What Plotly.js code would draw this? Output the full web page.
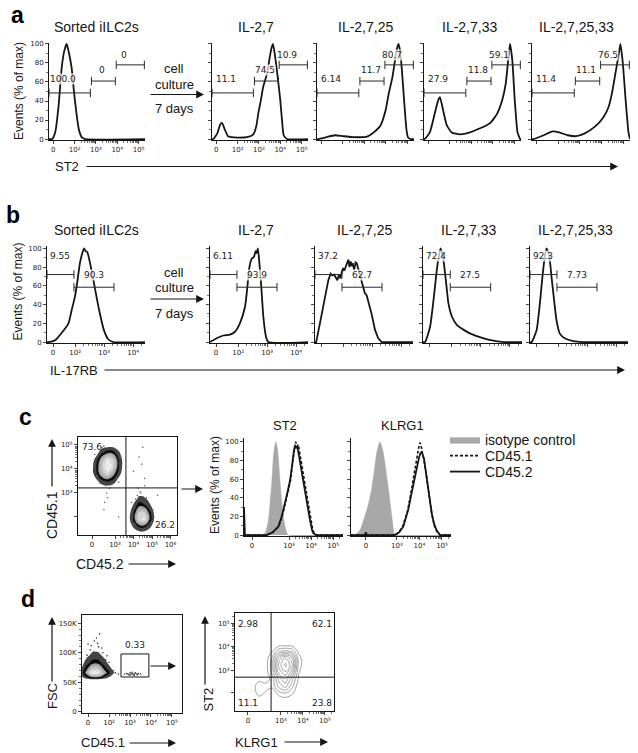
<!DOCTYPE html>
<html><head><meta charset="utf-8">
<script src="https://cdn.plot.ly/plotly-3.0.1.min.js"></script>
<style>html,body{margin:0;padding:0;background:#fff}#chart{width:638px;height:753px}</style>
</head><body><div id="chart"></div>
<script>
// ================= DATA =================
const conditions = ['Sorted iILC2s', 'IL-2,7', 'IL-2,7,25', 'IL-2,7,33', 'IL-2,7,25,33'];

// ---- Panel a: ST2 histograms (x: position on biexponential axis, 0 -> "0", 1 -> 10^2 ... 4 -> 10^5; y: % of max)
const aTickVals = [0, 1, 2, 3, 4];
const aTickText = ['0', '10²', '10³', '10⁴', '10⁵'];
const a1X = [-0.2, -0.05, 0.1, 0.25, 0.4, 0.52, 0.63, 0.72, 0.86, 0.97, 1.07, 1.2, 1.33, 1.5, 4.3];
const a1Y = [0, 0, 8, 35, 76, 93, 100, 92, 75, 50, 30, 10, 2, 0, 0];
const a2X = [-0.2, -0.14, 0.05, 0.18, 0.27, 0.4, 0.55, 0.7, 1.0, 1.44, 1.74, 1.88, 1.97, 2.1, 2.2, 2.38, 2.5, 2.57, 2.66, 2.77, 2.88, 3.0, 3.1, 3.16, 3.32, 4.3];
const a2Y = [0, 0, 6, 15, 17, 10, 3, 2, 1.5, 2, 5, 14, 27, 42, 55, 69, 85, 94, 100, 85, 65, 41, 15, 4, 0, 0];
const a3X = [-0.2, -0.15, 0.24, 0.63, 1.02, 1.49, 2.12, 2.43, 2.74, 2.98, 3.13, 3.29, 3.4, 3.5, 3.58, 3.66, 3.74, 3.84, 3.95, 4.02, 4.15, 4.3];
const a3Y = [0, 0, 2, 4, 3, 2, 2.5, 7, 14, 30, 48, 64, 80, 94, 100, 92, 72, 41, 10, 2, 0, 0];
const a4X = [-0.2, -0.17, 0.07, 0.3, 0.46, 0.54, 0.69, 0.85, 1.08, 1.47, 1.94, 2.26, 2.57, 2.88, 3.2, 3.43, 3.59, 3.7, 3.79, 3.9, 4.01, 4.14, 4.26, 4.3];
const a4Y = [0, 0, 7, 27, 41, 44, 30, 15, 7, 5, 7, 10, 13, 17, 27, 41, 58, 82, 100, 82, 41, 7, 0, 0];
const a5X = [-0.2, -0.13, 0.34, 0.74, 1.05, 1.44, 1.83, 2.22, 2.69, 3.08, 3.32, 3.47, 3.63, 3.76, 3.86, 3.97, 4.1, 4.23, 4.3];
const a5Y = [0, 0, 4, 8, 7, 4, 3, 6, 13, 23, 34, 48, 69, 86, 100, 80, 41, 7, 0];
// gates: [start, end] on x, height on y, and the percentages
const aGateX = [[-0.2, 1.74], [1.79, 2.91], [2.95, 4.27]];
const aGateY = [48.5, 61, 78];
const aGatePct = [['100.0', '0', '0'], ['11.1', '74.5', '10.9'], ['6.14', '11.7', '80.7'], ['27.9', '11.8', '59.1'], ['11.4', '11.1', '76.5']];
const aLabelX = [0.45, 2.3, 3.3];
const aLabelY = [63, 72.5, 88];

// ---- Panel b: IL-17RB histograms (x: 0.24 -> "0", 1 -> 10^2, 2 -> 10^3, 3 -> 10^4)
const bTickVals = [0.24, 1, 2, 3];
const bTickText = ['0', '10²', '10³', '10⁴'];
const b1X = [0.03, 0.08, 0.31, 0.54, 0.77, 0.88, 0.99, 1.07, 1.17, 1.26, 1.31, 1.36, 1.42, 1.51, 1.63, 1.74, 1.85, 1.99, 2.14, 2.32, 3.41];
const b1Y = [0, 0, 2, 10, 20, 34, 48, 63, 85, 96, 100, 97, 96, 85, 66, 48, 31, 13, 3, 0, 0];
const b2X = [0.03, 0.26, 0.49, 0.72, 0.89, 1.06, 1.24, 1.32, 1.39, 1.47, 1.55, 1.6, 1.64, 1.68, 1.72, 1.79, 1.87, 1.96, 2.04, 3.41];
const b2Y = [0, 4, 7, 8, 11, 20, 38, 59, 80, 89, 91, 97, 95, 100, 89, 63, 27, 6, 0, 0];
const b3X = [0.03, 0.07, 0.2, 0.37, 0.49, 0.57, 0.63, 0.69, 0.75, 0.8, 0.86, 0.91, 0.95, 1.0, 1.04, 1.1, 1.14, 1.18, 1.22, 1.26, 1.3, 1.33, 1.38, 1.43, 1.47, 1.52, 1.56, 1.64, 1.69, 1.75, 1.81, 1.87, 1.93, 1.99, 2.1, 2.21, 2.33, 3.41];
const b3Y = [0, 0, 20, 45, 66, 73, 71, 72, 68, 66, 72, 68, 74, 79, 76, 82, 85, 88, 80, 86, 81, 84, 77, 85, 84, 78, 73, 63, 58, 52, 50, 43, 36, 29, 13, 4, 0, 0];
const b4X = [0.03, 0.1, 0.27, 0.39, 0.48, 0.56, 0.63, 0.73, 0.82, 0.9, 1.02, 1.19, 1.42, 1.65, 2.0, 2.34, 2.8, 3.41];
const b4Y = [0, 0, 16, 45, 71, 90, 100, 87, 63, 41, 27, 18, 13, 9, 5, 2, 0, 0];
const b5X = [0.03, 0.09, 0.26, 0.37, 0.46, 0.55, 0.6, 0.69, 0.77, 0.86, 0.94, 1.06, 1.23, 1.52, 1.86, 3.41];
const b5Y = [0, 0, 13, 41, 70, 93, 100, 93, 70, 45, 24, 9, 4, 1, 0, 0];
const bGateX = [[0.03, 0.96], [0.96, 2.34]];
const bGateY = [72, 58.5];
const bGatePct = [['9.55', '90.3'], ['6.11', '93.9'], ['37.2', '62.7'], ['72.4', '27.5'], ['92.3', '7.73']];
const bLabelX = [0.1, 1.65];
const bLabelY = [91.5, 71];

// ---- Panel c: CD45.1 vs CD45.2 dot plot (density grids)
const c1TickX = [1.76, 3, 4, 5, 6];
const c1TickXText = ['0', '10³', '10⁴', '10⁵', '10⁶'];
const c1TickY = [2.0, 3, 4, 5];
const c1TickYText = ['', '10³', '10⁴', '10⁵'];
const c1QuadX = 3.59, c1QuadY = 3.21;
const c1Pct = ['73.6', '26.2'];
const c1AX = [1.7, 2.0, 2.3, 2.6, 2.9, 3.2, 3.5];
const c1AY = [3.2, 3.5, 3.8, 4.1, 4.4, 4.7, 5.0];
const c1AZ = [
  [0, 0, 0, 0, 0, 0, 0],
  [0, 0.6, 2, 2.8, 1.8, 0.4, 0],
  [0, 2.2, 6, 8, 5, 1.6, 0],
  [0, 2.6, 7, 10, 8, 2.6, 0],
  [0, 1.6, 5.5, 9, 7.5, 2.4, 0],
  [0, 0.3, 2, 3.2, 3, 1.2, 0],
  [0, 0, 0, 0, 0, 0, 0]];
const c1BX = [3.7, 4.0, 4.3, 4.6, 4.9, 5.2];
const c1BY = [1.3, 1.6, 1.9, 2.2, 2.5, 2.8, 3.1];
const c1BZ = [
  [0, 0, 0, 0, 0, 0],
  [0, 1.2, 2.8, 2.8, 1.2, 0],
  [0, 2.8, 8, 9, 3.2, 0],
  [0, 2.2, 7, 7, 2.6, 0],
  [0, 1.1, 3.2, 2.6, 1.1, 0],
  [0, 0, 1.3, 1.1, 0, 0],
  [0, 0, 0, 0, 0, 0]];
const c1DotsX = [4.2, 4.35, 4.5, 4.25, 4.6, 4.1, 4.7, 4.4, 2.5, 2.7, 1.9, 3.3, 2.3, 3.0, 2.55, 2.6, 2.45, 4.3, 4.45, 4.0, 3.2, 2.4, 5.3, 4.6, 4.5, 2.2, 3.1, 1.85, 3.35, 2.05, 3.2, 2.4, 2.8, 3.9, 5.05, 4.0, 4.95];
const c1DotsY = [2.9, 3.05, 2.85, 3.2, 3.3, 2.75, 2.8, 3.0, 3.3, 3.2, 4.6, 4.5, 4.9, 4.85, 3.0, 2.8, 2.6, 4.5, 4.2, 3.9, 2.0, 2.3, 2.9, 3.6, 4.9, 3.4, 3.6, 4.2, 4.0, 3.7, 3.45, 4.95, 3.35, 2.6, 2.3, 1.7, 1.75];

// ---- Panel c: ST2 and KLRG1 histograms (x: 10^3 -> 3, 10^4 -> 4, 10^5 -> 5)
const st2TickVals = [1.32, 3, 4, 5];
const klTickVals = [1.62, 3, 4, 5];
const cTickText = ['0', '10³', '10⁴', '10⁵'];
const seriesNames = ['isotype control', 'CD45.1', 'CD45.2'];
const st2IsoX = [0.955, 1.83, 1.95, 2.06, 2.14, 2.21, 2.28, 2.33, 2.4, 2.47, 2.53, 2.59, 2.66, 2.74, 2.85, 2.97, 5.45];
const st2IsoY = [0, 0, 4, 15, 35, 55, 80, 92, 100, 93, 78, 58, 38, 20, 6, 0, 0];
const st2C451X = [0.955, 0.955, 0.99, 1.05, 2.0, 2.27, 2.53, 2.69, 2.84, 2.97, 3.07, 3.17, 3.24, 3.3, 3.36, 3.42, 3.5, 3.62, 3.73, 3.84, 3.98, 4.08, 4.15, 4.27, 5.45];
const st2C451Y = [0, 28, 0, 0, 0, 3, 9, 20, 34, 48, 59, 80, 92, 100, 95, 97, 86, 70, 52, 38, 16, 5, 2, 0, 0];
const st2C452X = [0.955, 0.955, 0.99, 1.05, 1.99, 2.25, 2.51, 2.67, 2.82, 2.95, 3.05, 3.15, 3.22, 3.27, 3.32, 3.38, 3.45, 3.58, 3.7, 3.8, 3.95, 4.05, 4.1, 4.23, 5.45];
const st2C452Y = [0, 30, 0, 0, 0, 3, 9, 20, 34, 48, 59, 80, 90, 96, 93, 95, 85, 70, 52, 38, 16, 5, 2, 0, 0];
const klIsoX = [0.96, 1.13, 1.35, 1.6, 1.75, 1.88, 2.0, 2.1, 2.24, 2.36, 2.45, 2.55, 2.62, 2.72, 2.8, 2.93, 5.4];
const klIsoY = [0, 0, 5, 22, 35, 50, 70, 88, 100, 92, 80, 62, 50, 30, 15, 0, 0];
const klC451X = [0.96, 2.9, 3.08, 3.25, 3.37, 3.48, 3.62, 3.74, 3.86, 3.96, 4.02, 4.07, 4.13, 4.22, 4.33, 4.44, 4.55, 4.66, 4.77, 4.92, 5.4];
const klC451Y = [0, 0, 3, 9, 18, 27, 45, 63, 80, 93, 99, 96, 88, 78, 60, 40, 22, 10, 4, 0, 0];
const klC452X = [0.96, 1.58, 1.62, 1.66, 2.91, 3.1, 3.28, 3.4, 3.5, 3.65, 3.8, 3.9, 3.99, 4.05, 4.1, 4.2, 4.32, 4.43, 4.54, 4.65, 4.76, 4.91, 5.4];
const klC452Y = [0, 0, 3, 0, 0, 3, 9, 18, 27, 45, 63, 75, 84, 88, 89, 82, 63, 42, 24, 12, 5, 0, 0];

// ---- Panel d: FSC vs CD45.1 (FSC in thousands)
const d1TickX = [0, 1, 2, 3, 4];
const d1TickXText = ['0', '10²', '10³', '10⁴', '10⁵'];
const d1TickY = [0, 50, 100, 150];
const d1TickYText = ['0', '50K', '100K', '150K'];
const d1X = [-0.4, -0.1, 0.2, 0.5, 0.8, 1.1, 1.4];
const d1Y = [54, 60, 66, 74, 84, 98, 112, 126];
const d1Z = [
  [0, 0, 0, 0, 0, 0, 0],
  [0, 2.5, 5, 5, 2.5, 0.8, 0],
  [0, 4.5, 10, 9, 5, 1.8, 0],
  [0, 3, 6.5, 6.5, 3, 1, 0],
  [0, 1.4, 3, 3, 1.4, 0.2, 0],
  [0, 0.4, 1.2, 1.2, 0.4, 0, 0],
  [0, 0, 0.3, 0.3, 0, 0, 0],
  [0, 0, 0, 0, 0, 0, 0]];
const d1DotsX = [0.3, 0.5, 0.1, 0.7, 0.9, 1.2, 1.3, 1.45, -0.3, 0.0, 0.4, 0.55, 0.25, 0.65, -0.05, 0.85, 1.0, 0.45, 0.15,
  1.75, 1.85, 1.95, 2.0, 2.05, 2.1, 2.15, 2.2, 2.25, 2.3, 2.4, 2.5, 2.1, 2.0, 2.2, 1.9, 2.35];
const d1DotsY = [120, 110, 105, 100, 95, 70, 66, 64, 70, 115, 125, 132, 101, 108, 96, 88, 84, 116, 112,
  64, 65, 63, 66, 64, 65, 63, 64, 66, 64, 65, 64, 67, 62, 62, 64, 63];
const d1GateX = [1.57, 2.9];
const d1GateY = [59, 98];
const d1Pct = '0.33';

// ---- Panel d: ST2 vs KLRG1 contour
const d2TickX = [1.5, 3, 4, 5];
const d2TickXText = ['0', '10³', '10⁴', '10⁵'];
const d2TickY = [2.06, 3, 4, 5];
const d2TickYText = ['', '10³', '10⁴', '10⁵'];
const d2QuadX = 2.55, d2QuadY = 2.7;
const d2Pct = ['2.98', '62.1', '11.1', '23.8'];
const d2X = [1.7, 2.0, 2.3, 2.6, 2.9, 3.2, 3.5, 3.8, 4.1];
const d2Y = [1.7, 2.0, 2.3, 2.6, 2.9, 3.2, 3.5, 3.8, 4.1];
const d2Z = [
  [0, 0, 0, 0, 0, 0, 0, 0, 0],
  [0, 1.1, 0.5, 0, 1, 1.5, 0.8, 0, 0],
  [0, 1.6, 1.1, 0.9, 3, 4, 2, 0, 0],
  [0, 0.3, 0.3, 1, 4, 5.5, 3, 0.5, 0],
  [0, 0, 0, 2, 6, 7.5, 5, 0.8, 0],
  [0, 0, 0, 2.3, 7, 9, 7, 1.2, 0],
  [0, 0, 0, 1.8, 6, 8, 6, 1.2, 0],
  [0, 0, 0, 0.6, 2.5, 3, 2.5, 0.4, 0],
  [0, 0, 0, 0, 0, 0, 0, 0, 0]];

// ================= BUILD =================
const W = 638, H = 753;
const fx = p => p / W, fy = p => 1 - p / H;
const SANS = 'Liberation Sans, Arial, sans-serif';
const NUMF = 'DejaVu Sans, Verdana, sans-serif';
const INK = '#151515';

const legendBase = {x: fx(445), xanchor: 'left', yanchor: 'middle', bgcolor: 'rgba(0,0,0,0)',
  font: {family: SANS, size: 14, color: INK}, itemwidth: 30};
const layout = {
  width: W, height: H, margin: {l: 0, r: 0, t: 0, b: 0},
  paper_bgcolor: '#fff', plot_bgcolor: 'rgba(0,0,0,0)',
  font: {family: SANS, color: INK, size: 12},
  showlegend: true,
  legend: Object.assign({}, legendBase, {y: fy(440)}),
  legend2: Object.assign({}, legendBase, {y: fy(456)}),
  legend3: Object.assign({}, legendBase, {y: fy(472)}),
  annotations: [], shapes: []
};
const legendIds = ['legend', 'legend2', 'legend3'];
const traces = [];

function logMinor(d0, d1) { const v = []; for (let d = d0; d < d1; d++) for (let m = 2; m <= 9; m++) v.push(d + Math.log10(m)); return v; }
const baseAx = () => ({showgrid: false, zeroline: false, showline: true, linecolor: INK, linewidth: 1,
  ticks: 'outside', ticklen: 3, tickwidth: 0.8, tickcolor: INK, fixedrange: true,
  tickfont: {family: NUMF, size: 7, color: '#222'}});
let axN = 0;
function addAxes(x0, x1, y0, y1, xo, yo) {
  axN++; const s = axN === 1 ? '' : String(axN);
  layout['xaxis' + s] = Object.assign(baseAx(), {domain: [fx(x0), fx(x1)], anchor: 'y' + s}, xo);
  layout['yaxis' + s] = Object.assign(baseAx(), {domain: [fy(y1), fy(y0)], anchor: 'x' + s}, yo);
  return {xa: 'x' + s, ya: 'y' + s};
}
function minor(vals) { return {tickmode: 'array', tickvals: vals, ticks: 'outside', ticklen: 2, tickwidth: 0.6, tickcolor: INK, showgrid: false}; }
function line(xs, ys, ax, o) {
  traces.push(Object.assign({type: 'scatter', mode: 'lines', x: xs, y: ys, xaxis: ax.xa, yaxis: ax.ya,
    line: {color: INK, width: 1.8, shape: 'spline', smoothing: 0.5}, showlegend: false, hoverinfo: 'skip'}, o));
}
function gate(x01, y, ax) {
  traces.push({type: 'scatter', mode: 'lines+markers', x: x01, y: [y, y], xaxis: ax.xa, yaxis: ax.ya,
    line: {color: '#2a2a2a', width: 1}, marker: {symbol: 'line-ns', size: 6, line: {width: 1, color: '#2a2a2a'}},
    showlegend: false, hoverinfo: 'skip', cliponaxis: false});
}
function txt(x, y, text, o) {
  layout.annotations.push(Object.assign({xref: 'paper', yref: 'paper', x: fx(x), y: fy(y), text: text, showarrow: false,
    xanchor: 'center', yanchor: 'middle', font: {family: SANS, size: 13, color: INK}}, o || {}));
}
function dtxt(ax, x, y, text, o) {
  layout.annotations.push(Object.assign({xref: ax.xa, yref: ax.ya, x: x, y: y, text: text, showarrow: false,
    xanchor: 'center', yanchor: 'middle', borderpad: 0, bgcolor: 'rgba(255,255,255,0.72)',
    font: {family: NUMF, size: 9, color: '#222'}}, o || {}));
}
function arrow(x1, y1, x2, y2) {
  layout.annotations.push({xref: 'paper', yref: 'paper', x: fx(x2), y: fy(y2), ax: x1 - x2, ay: y1 - y2,
    axref: 'pixel', ayref: 'pixel', text: '', showarrow: true, arrowhead: 2, arrowsize: 1.3, arrowwidth: 1.2, arrowcolor: INK,
    font: {size: 10}});
}
const yHistTicks = {tickmode: 'array', tickvals: [0, 20, 40, 60, 80, 100], minor: minor([10, 30, 50, 70, 90])};

// ---------- Panel a ----------
const aBoxes = [[49, 145], [212, 308], [317, 414], [424, 521], [532, 630]];
const aTitleX = [96, 256, 365, 469, 576];
const aXs = [a1X, a2X, a3X, a4X, a5X], aYs = [a1Y, a2Y, a3Y, a4Y, a5Y];
aBoxes.forEach((b, i) => {
  const ax = addAxes(b[0], b[1], 43, 140,
    {range: [-0.2, 4.3], tickmode: 'array', tickvals: aTickVals, ticktext: aTickText, showticklabels: i < 2, minor: minor(logMinor(1, 4))},
    Object.assign({range: [-1, 101], showticklabels: i === 0}, yHistTicks));
  line(aXs[i], aYs[i], ax);
  aGateX.forEach((g, k) => gate(g, aGateY[k], ax));
  aGatePct[i].forEach((p, k) => dtxt(ax, aLabelX[k], aLabelY[k], p));
  txt(aTitleX[i], 27, conditions[i], {font: {family: SANS, size: 14, color: INK}});
});

// ---------- Panel b ----------
const bBoxes = [[47, 145], [210, 308], [315, 413], [423, 522], [530, 628]];
const bTitleX = [96, 256, 364, 468, 575];
const bXs = [b1X, b2X, b3X, b4X, b5X], bYs = [b1Y, b2Y, b3Y, b4Y, b5Y];
bBoxes.forEach((b, i) => {
  const ax = addAxes(b[0], b[1], 245.5, 343,
    {range: [0.03, 3.41], tickmode: 'array', tickvals: bTickVals, ticktext: bTickText, showticklabels: i < 2, minor: minor(logMinor(1, 3).concat([3.3]))},
    Object.assign({range: [-1, 103], showticklabels: i === 0}, yHistTicks));
  line(bXs[i], bYs[i], ax, i === 2 ? {line: {color: INK, width: 1.8, shape: 'linear'}} : {});
  bGateX.forEach((g, k) => gate(g, bGateY[k], ax));
  dtxt(ax, bLabelX[0], bLabelY[0], bGatePct[i][0], {xanchor: 'left'});
  dtxt(ax, bLabelX[1], bLabelY[1], bGatePct[i][1]);
  txt(bTitleX[i], 230, conditions[i], {font: {family: SANS, size: 14, color: INK}});
});

// ---------- density colouring helper ----------
// levels: start 1, size 1.5, 6 levels -> 7 bands (background + 6); colours per band
function discreteScale(cols) {
  const n = cols.length - 1, s = [];
  cols.forEach((c, k) => {
    const a = k === 0 ? 0 : (k - 0.5) / n, b = k === n ? 1 : (k + 0.5) / n;
    s.push([a, c]); s.push([b, c]);
  });
  return s;
}
const densScale = discreteScale(['rgba(255,255,255,0)', '#444444', '#080808', '#a2a2a2', '#bcbcbc', '#d4d4d4', '#eaeaea']);
function density(xs, ys, z, ax) {
  traces.push({type: 'contour', x: xs, y: ys, z: z, xaxis: ax.xa, yaxis: ax.ya, showscale: false,
    autocontour: false, contours: {start: 1, end: 8.5, size: 1.5, coloring: 'fill'}, colorscale: densScale,
    line: {color: '#000', width: 0, smoothing: 1.2}, hoverinfo: 'skip', showlegend: false});
}

// ---------- Panel c: dot plot ----------
const cSc = addAxes(78, 177, 437, 535,
  {range: [1.0, 6.35], tickmode: 'array', tickvals: c1TickX, ticktext: c1TickXText, mirror: true, minor: minor(logMinor(3, 6))},
  {range: [1.25, 5.33], tickmode: 'array', tickvals: c1TickY, ticktext: c1TickYText, mirror: true, minor: minor(logMinor(3, 5))});
density(c1AX, c1AY, c1AZ, cSc);
density(c1BX, c1BY, c1BZ, cSc);
traces.push({type: 'scatter', mode: 'markers', x: c1DotsX, y: c1DotsY, xaxis: cSc.xa, yaxis: cSc.ya,
  marker: {size: 1.6, color: '#666'}, showlegend: false, hoverinfo: 'skip'});
layout.shapes.push({type: 'line', xref: cSc.xa, yref: cSc.ya + ' domain', x0: c1QuadX, x1: c1QuadX, y0: 0, y1: 1, line: {color: INK, width: 1}});
layout.shapes.push({type: 'line', xref: cSc.xa + ' domain', yref: cSc.ya, x0: 0, x1: 1, y0: c1QuadY, y1: c1QuadY, line: {color: INK, width: 1}});
dtxt(cSc, 1.15, 4.93, c1Pct[0], {xanchor: 'left', bgcolor: 'rgba(0,0,0,0)'});
dtxt(cSc, 6.3, 1.65, c1Pct[1], {xanchor: 'right', bgcolor: 'rgba(0,0,0,0)'});

// ---------- Panel c: histograms ----------
const cST2 = addAxes(244, 343, 438, 536,
  {range: [0.955, 5.45], tickmode: 'array', tickvals: st2TickVals, ticktext: cTickText, minor: minor(logMinor(3, 5).concat([5.3]))},
  Object.assign({range: [-1, 104], showticklabels: true}, yHistTicks));
const cKL = addAxes(351, 451, 438, 536,
  {range: [0.96, 5.4], tickmode: 'array', tickvals: klTickVals, ticktext: cTickText, minor: minor(logMinor(3, 5).concat([5.3]))},
  Object.assign({range: [-1, 104], showticklabels: false}, yHistTicks));
[[cST2, st2IsoX, st2IsoY, st2C451X, st2C451Y, st2C452X, st2C452Y, true],
 [cKL, klIsoX, klIsoY, klC451X, klC451Y, klC452X, klC452Y, false]].forEach(r => {
  const ax = r[0], leg = r[7];
  line(r[1], r[2], ax, {name: seriesNames[0], showlegend: leg, legend: legendIds[0], fill: 'tozeroy', fillcolor: '#a8a8a8',
    line: {color: '#a8a8a8', width: 0.5, shape: 'spline', smoothing: 0.6}});
  line(r[3], r[4], ax, {name: seriesNames[1], showlegend: leg, legend: legendIds[1], line: {color: INK, width: 1.6, dash: '3px,2px', shape: 'linear'}});
  line(r[5], r[6], ax, {name: seriesNames[2], showlegend: leg, legend: legendIds[2], line: {color: INK, width: 1.8, shape: 'linear'}});
});
txt(285, 425, 'ST2');
txt(402, 425, 'KLRG1');

// ---------- Panel d: FSC vs CD45.1 ----------
const dSc = addAxes(82, 182, 615, 713,
  {range: [-0.29, 4.48], tickmode: 'array', tickvals: d1TickX, ticktext: d1TickXText, mirror: true, minor: minor(logMinor(1, 4))},
  {range: [-2, 164], tickmode: 'array', tickvals: d1TickY, ticktext: d1TickYText, mirror: true, minor: minor([10, 20, 30, 40, 60, 70, 80, 90, 110, 120, 130, 140])});
density(d1X, d1Y, d1Z, dSc);
traces.push({type: 'scatter', mode: 'markers', x: d1DotsX, y: d1DotsY, xaxis: dSc.xa, yaxis: dSc.ya,
  marker: {size: 1.6, color: '#333'}, showlegend: false, hoverinfo: 'skip'});
layout.shapes.push({type: 'rect', xref: dSc.xa, yref: dSc.ya, x0: d1GateX[0], x1: d1GateX[1], y0: d1GateY[0], y1: d1GateY[1], line: {color: INK, width: 1}});
dtxt(dSc, 2.23, 113, d1Pct, {bgcolor: 'rgba(0,0,0,0)'});

// ---------- Panel d: ST2 vs KLRG1 ----------
const dCt = addAxes(235, 334, 613, 711,
  {range: [0.91, 5.41], tickmode: 'array', tickvals: d2TickX, ticktext: d2TickXText, mirror: true, minor: minor(logMinor(3, 5).concat([5.3]))},
  {range: [1.26, 5.43], tickmode: 'array', tickvals: d2TickY, ticktext: d2TickYText, mirror: true, minor: minor(logMinor(3, 5).concat([5.3]))});
traces.push({type: 'contour', x: d2X, y: d2Y, z: d2Z, xaxis: dCt.xa, yaxis: dCt.ya, showscale: false,
  autocontour: false, contours: {start: 0.7, end: 8.7, size: 1, coloring: 'none'},
  line: {color: '#8c8c8c', width: 0.8, smoothing: 1.2}, hoverinfo: 'skip', showlegend: false});
layout.shapes.push({type: 'line', xref: dCt.xa, yref: dCt.ya + ' domain', x0: d2QuadX, x1: d2QuadX, y0: 0, y1: 1, line: {color: INK, width: 1}});
layout.shapes.push({type: 'line', xref: dCt.xa + ' domain', yref: dCt.ya, x0: 0, x1: 1, y0: d2QuadY, y1: d2QuadY, line: {color: INK, width: 1}});
const nf = {bgcolor: 'rgba(0,0,0,0)'};
dtxt(dCt, 0.98, 4.98, d2Pct[0], Object.assign({xanchor: 'left'}, nf));
dtxt(dCt, 5.36, 4.98, d2Pct[1], Object.assign({xanchor: 'right'}, nf));
dtxt(dCt, 0.98, 1.6, d2Pct[2], Object.assign({xanchor: 'left'}, nf));
dtxt(dCt, 5.36, 1.6, d2Pct[3], Object.assign({xanchor: 'right'}, nf));

// ---------- Labels, arrows ----------
const bold = {family: SANS, size: 23, color: '#000', weight: 'bold'};
txt(17, 15.5, 'a', {font: bold});
txt(12.5, 215, 'b', {font: bold});
txt(25, 417.5, 'c', {font: bold});
txt(28.5, 599, 'd', {font: bold});

const yl = {textangle: -90, font: {family: SANS, size: 12, color: INK}};
txt(19, 91, 'Events (% of max)', yl);
txt(17.5, 292, 'Events (% of max)', yl);
txt(215, 485, 'Events (% of max)', yl);

// culture arrows
[[68, 84, 94.5, 108.5], [272, 287.5, 299, 313]].forEach(r => {
  txt(173.5, r[0], 'cell'); txt(174.5, r[1], 'culture'); txt(174.5, r[3], '7 days');
  arrow(149, r[2], 204, r[2]);
});
// axis name lines
txt(66.5, 166.5, 'ST2'); arrow(85, 166.5, 618, 166.5);
txt(73.5, 370, 'IL-17RB'); arrow(103, 370, 625, 370);
// c
txt(52, 515, 'CD45.1', {textangle: -90, font: {family: SANS, size: 14, color: INK}}); arrow(52, 488, 52, 439);
txt(100, 564, 'CD45.2', {font: {family: SANS, size: 14, color: INK}}); arrow(127, 564, 176, 564);
arrow(180, 489, 203, 489);
// d
txt(52, 696, 'FSC', {textangle: -90}); arrow(52, 683, 52, 617);
txt(102.5, 742, 'CD45.1'); arrow(128, 743, 176, 743);
arrow(149, 666, 176, 666);
txt(208, 699.5, 'ST2', {textangle: -90}); arrow(205, 686, 205, 616);
txt(256.5, 742, 'KLRG1'); arrow(283, 742, 328, 742);

Plotly.newPlot('chart', traces, layout, {staticPlot: true, displayModeBar: false});
</script>
</body></html>
